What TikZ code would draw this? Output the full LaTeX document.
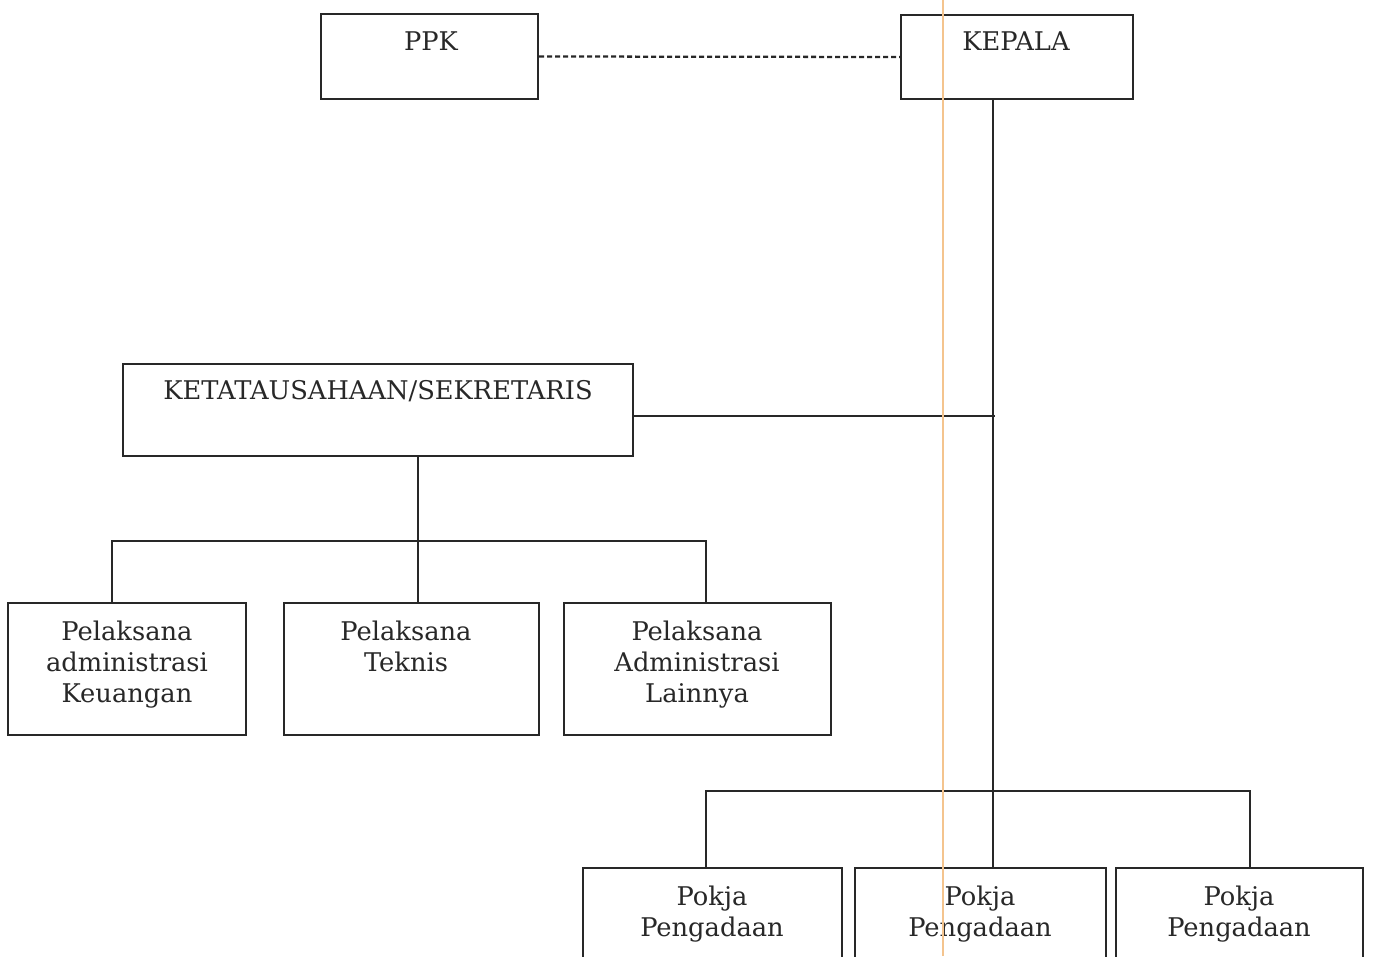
\documentclass[tikz,border=0pt]{standalone}
\usepackage{fontspec}
\setmainfont{DejaVu Serif}
\usetikzlibrary{calc}
\definecolor{fold}{RGB}{244,196,142}
\definecolor{ink}{RGB}{40,40,40}
\tikzset{
  box/.style={draw=ink, line width=1.7pt, rectangle, inner sep=0pt},
  lbl/.style={text=ink, align=center, inner sep=0pt, font=\fontsize{19.3}{23.3}\selectfont},
  conn/.style={draw=ink, line width=1.4pt},
  dashconn/.style={draw=ink, line width=1.7pt, dash pattern=on 3.8pt off 2.2pt}
}
\begin{document}
\begin{tikzpicture}[x=0.75pt,y=-0.75pt]
\useasboundingbox (0,0) rectangle (1373,956);
\clip (0,0) rectangle (1373,956);
\fill[white] (0,0) rectangle (1373,956);
% boxes
\node[box, minimum width=217*0.75pt, minimum height=85*0.75pt] (ppk) at (429.5,56.5) {};
\node[box, minimum width=232*0.75pt, minimum height=84*0.75pt] (kepala) at (1017,57) {};
\node[box, minimum width=510*0.75pt, minimum height=92*0.75pt] (ket) at (378,410) {};
\node[box, minimum width=238*0.75pt, minimum height=132*0.75pt] (p1) at (127,669) {};
\node[box, minimum width=255*0.75pt, minimum height=132*0.75pt] (p2) at (411.5,669) {};
\node[box, minimum width=267*0.75pt, minimum height=132*0.75pt] (p3) at (697.5,669) {};
\node[box, minimum width=259*0.75pt, minimum height=132*0.75pt] (k1) at (712.5,934) {};
\node[box, minimum width=251*0.75pt, minimum height=132*0.75pt] (k2) at (980.5,934) {};
\node[box, minimum width=247*0.75pt, minimum height=132*0.75pt] (k3) at (1239.5,934) {};
% texts
\node[lbl] (tppk) at (431,41) {PPK};
\node[lbl] (tkepala) at (1016,41) {KEPALA};
\node[lbl] (tket) at (378,391) {KETATAUSAHAAN/SEKRETARIS};
\node[lbl] (tp1) at (127,665) {Pelaksana\\administrasi\\Keuangan};
\node[lbl] (tp2) at (406,646) {Pelaksana\\Teknis};
\node[lbl] (tp3) at (697,665) {Pelaksana\\Administrasi\\Lainnya};
\node[lbl] (tk1) at (712,914) {Pokja\\Pengadaan};
\node[lbl] (tk2) at (980,914) {Pokja\\Pengadaan};
\node[lbl] (tk3) at (1239,914) {Pokja\\Pengadaan};
% connector coordinates
\coordinate (trunk) at (993,99);
\coordinate (b1) at (418,541);
\coordinate (bL) at (112,541);
\coordinate (bR) at (706,541);
\coordinate (cL) at (706,791);
\coordinate (cR) at (1250,791);
% connectors
\draw[dashconn] (ppk.east) -- (kepala.west);
\draw[conn] (kepala.south -| trunk) -- (k2.north -| trunk);
\draw[conn] ($(ket.east)+(0,6)$) -- ($(ket.east -| trunk)+(2,6)$);
\draw[conn] (ket.south -| b1) -- (p2.north -| b1);
\draw[conn] (p1.north -| bL) -- (bL) -- (bR) -- (p3.north -| bR);
\draw[conn] (k1.north -| cL) -- (cL) -- (cR) -- (k3.north -| cR);
% scan fold line
\draw[fold, line width=1.6pt] (943,0) -- (943,956);
\end{tikzpicture}
\end{document}
